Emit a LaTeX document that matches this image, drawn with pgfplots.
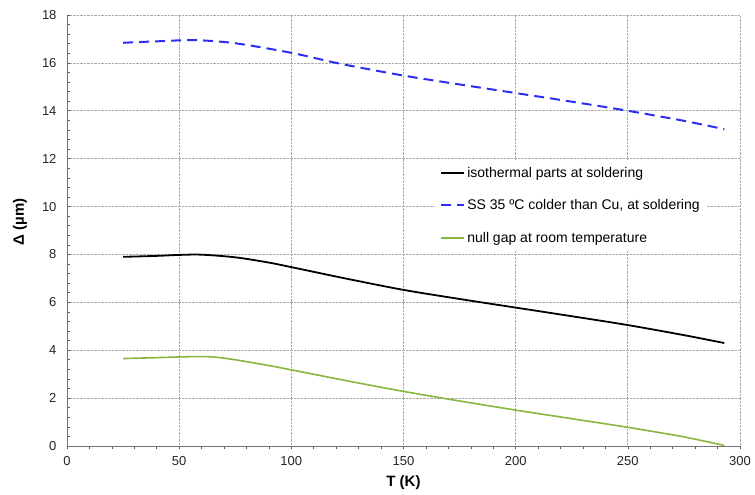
\documentclass[border=0pt]{standalone}
\usepackage{pgfplots}
\pgfplotsset{compat=1.18}
\usepackage{fontspec}
\setmainfont{Liberation Sans}
\definecolor{ssblue}{RGB}{45,45,245}
\definecolor{nullgreen}{RGB}{135,182,65}
\definecolor{gridgray}{RGB}{170,170,170}

\begin{document}
\begin{tikzpicture}
\begin{axis}[
name=ax,
scale only axis,
width=673pt, height=431pt,
xmin=0, xmax=300, ymin=0, ymax=18,
xtick={0,50,...,300},
ytick={0,2,...,18},
minor x tick num=4,
minor y tick num=4,
tick align=inside,
major tick length=3.5pt,
minor tick length=3.5pt,
tick style={black!65, line width=0.6pt},
x tick style={yshift=-3.5pt},
axis line style={black!55, line width=0.9pt},
axis lines*=left,
grid=major,
major grid style={gridgray, densely dotted, line width=0.7pt},
/pgf/number format/assume math mode=true,
ticklabel style={font=\fontsize{13}{15}\selectfont, text=black!85},
xticklabel style={yshift=-7pt},
yticklabel style={xshift=-7pt},
xlabel={\textbf{T (K)}},
ylabel={\textbf{Δ (µm)}},
label style={font=\fontsize{15}{17}\selectfont},
xlabel style={at={(axis description cs:0.5,-0.086)}, anchor=center},
ylabel style={at={(axis description cs:-0.070,0.52)}, anchor=center},
legend style={at={(0.547,0.664)}, anchor=north west, draw=none, fill=white,
  font=\fontsize{14}{16}\selectfont, row sep=17pt, inner xsep=5pt, inner ysep=5pt},
legend cell align=left,
legend image code/.code={\draw[#1] (0pt,0pt) -- (23pt,0pt);},
]
\addplot[black, line width=1.8pt, smooth] coordinates {
(25,7.90) (40,7.94) (50,7.98) (60,7.99) (75,7.88) (90,7.66) (100,7.47) (125,6.98) (150,6.52) (175,6.14) (200,5.78) (225,5.42) (250,5.05) (275,4.63) (293,4.30)};
\addlegendentry{isothermal parts at soldering}
\addplot[ssblue, line width=2pt, dash pattern=on 10pt off 6pt, smooth] coordinates {
(25,16.84) (40,16.90) (57,16.95) (75,16.82) (100,16.42) (122,15.96) (150,15.47) (175,15.10) (200,14.74) (225,14.38) (250,14.00) (275,13.58) (293,13.23)};
\addlegendentry{SS 35 ºC colder than Cu, at soldering}
\addplot[nullgreen, line width=1.6pt, smooth] coordinates {
(25,3.65) (40,3.69) (55,3.73) (65,3.72) (75,3.60) (90,3.36) (100,3.18) (125,2.72) (150,2.28) (175,1.88) (200,1.50) (225,1.14) (250,0.78) (275,0.38) (293,0.02)};
\addlegendentry{null gap at room temperature}
\end{axis}
\path[use as bounding box] ([shift={(-67pt,-49pt)}]ax.south west) rectangle ([shift={(15pt,15pt)}]ax.north east);
\end{tikzpicture}
\end{document}
